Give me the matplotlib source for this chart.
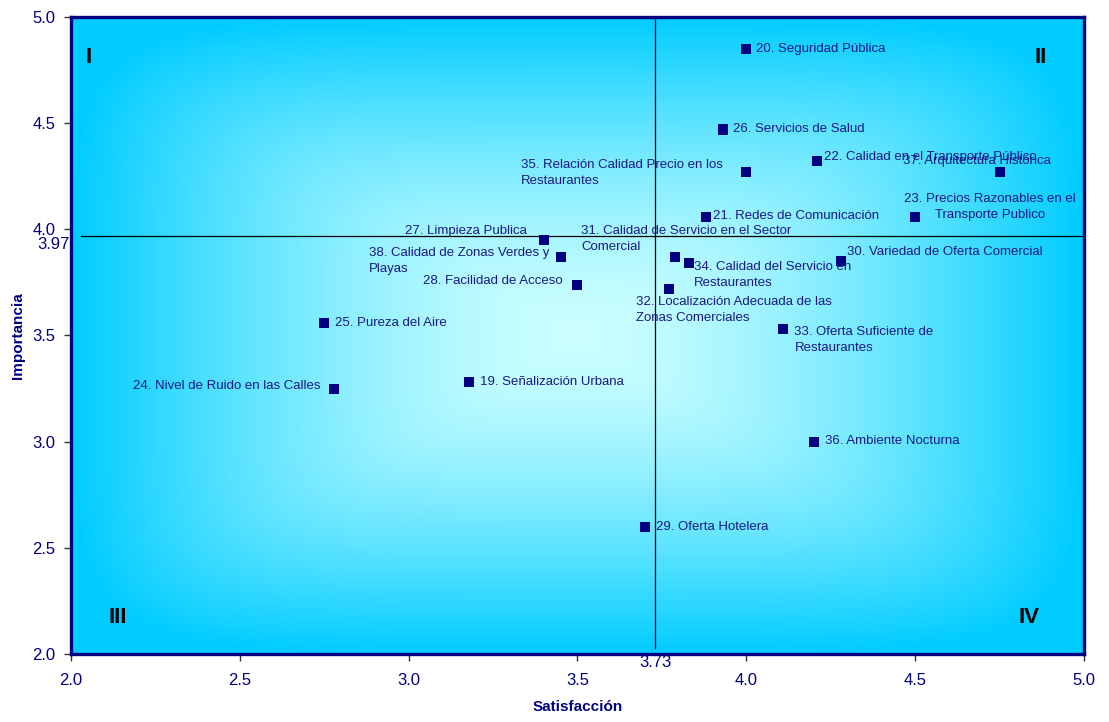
import numpy as np
import matplotlib
matplotlib.use("Agg")
import matplotlib.pyplot as plt
from matplotlib.colors import to_rgb
import matplotlib.transforms as mtransforms

plt.rcParams['font.family'] = ['Liberation Sans', 'DejaVu Sans']

# Attribute codes, names and their mean scores
codes = [19, 20, 21, 22, 23, 24, 25, 26, 27, 28,
         29, 30, 31, 32, 33, 34, 35, 36, 37, 38]
names = [
    "Señalización Urbana",
    "Seguridad Pública",
    "Redes de Comunicación",
    "Calidad en el Transporte Público",
    "Precios Razonables en el\nTransporte Publico",
    "Nivel de Ruido en las Calles",
    "Pureza del Aire",
    "Servicios de Salud",
    "Limpieza Publica",
    "Facilidad de Acceso",
    "Oferta Hotelera",
    "Variedad de Oferta Comercial",
    "Calidad de Servicio en el Sector\nComercial",
    "Localización Adecuada de las\nZonas Comerciales",
    "Oferta Suficiente de\nRestaurantes",
    "Calidad del Servicio en\nRestaurantes",
    "Relación Calidad Precio en los\nRestaurantes",
    "Ambiente Nocturna",
    "Arquitectura Histórica",
    "Calidad de Zonas Verdes y\nPlayas",
]
satisfaccion = [3.18, 4.00, 3.88, 4.21, 4.50, 2.78, 2.75, 3.93, 3.40, 3.50,
                3.70, 4.28, 3.79, 3.77, 4.11, 3.83, 4.00, 4.20, 4.75, 3.45]
importancia = [3.28, 4.85, 4.06, 4.32, 4.06, 3.25, 3.56, 4.47, 3.95, 3.74,
               2.60, 3.85, 3.87, 3.72, 3.53, 3.84, 4.27, 3.00, 4.27, 3.87]

media_satisfaccion = 3.73
media_importancia = 3.97

x_ticks = [2.0, 2.5, 3.0, 3.5, 4.0, 4.5, 5.0]
y_ticks = [2.0, 2.5, 3.0, 3.5, 4.0, 4.5, 5.0]
quadrants = ["I", "II", "III", "IV"]

# Label placement (pixel offsets from each marker, horizontal alignment)
label_layout = {
    19: (11, 0, 'left'), 20: (10, 0, 'left'), 21: (7, 1, 'left'),
    22: (7, 4, 'left'), 23: (75, 10, 'center'), 24: (-14, 3, 'right'),
    25: (11, 0, 'left'), 26: (10, 1, 'left'), 27: (-17, 9, 'right'),
    28: (-15, 4, 'right'), 29: (11, 0, 'left'), 30: (6, 9, 'left'),
    31: (-94, 18, 'left'), 32: (-33, -21, 'left'), 33: (11, -11, 'left'),
    34: (5, -12, 'left'), 35: (-225, -1, 'left'), 36: (11, 1, 'left'),
    37: (-97, 11, 'left'), 38: (-192, -4, 'left'),
}

NAVY = '#000080'
TEXT = '#1a1a82'

fig = plt.figure(figsize=(11.09, 7.22), dpi=100)
ax = fig.add_axes([0.064, 0.0942, 0.9134, 0.8823])

# Rectangular "from centre" gradient background
n = 400
u = np.linspace(-1, 1, n)
U, V = np.meshgrid(u, u)
t = (np.abs(U) ** 6 + np.abs(V) ** 6) ** (1 / 6)
t = np.clip(t, 0, 1) ** 1.5
c_center = np.array(to_rgb('#CCFFFF'))
c_edge = np.array(to_rgb('#00CCFF'))
grad = c_center[None, None, :] * (1 - t[..., None]) + c_edge[None, None, :] * t[..., None]
ax.imshow(grad, extent=[0, 1, 0, 1], transform=ax.transAxes,
          aspect='auto', zorder=0, interpolation='bilinear')

ax.set_xlim(2.0, 5.0)
ax.set_ylim(2.0, 5.0)

# Mean reference lines
ax.axvline(media_satisfaccion, ymin=0.01, ymax=1.0, color='black', lw=0.9, zorder=2)
ax.axhline(media_importancia, xmin=0.01, xmax=1.0, color='black', lw=0.9, zorder=2)

# Points
ax.scatter(satisfaccion, importancia, marker='s', s=52, color=NAVY,
           edgecolors='none', zorder=3)

for c, nm, x, y in zip(codes, names, satisfaccion, importancia):
    dx, dy, ha = label_layout[c]
    ax.annotate(f"{c}. {nm}", (x, y), xytext=(dx, dy), textcoords='offset pixels',
                ha=ha, va='center', multialignment=ha, fontsize=9.5,
                color=TEXT, linespacing=1.45, zorder=4)

# Quadrant labels
quad_pos = [(0.017, 0.937), (0.957, 0.937), (0.046, 0.058), (0.946, 0.058)]
for q, (qx, qy) in zip(quadrants, quad_pos):
    ax.text(qx, qy, q, transform=ax.transAxes, ha='center', va='center',
            fontsize=16, fontweight='bold', color='black', zorder=4)

# Axes styling
for s in ax.spines.values():
    s.set_color(NAVY)
    s.set_linewidth(2.4)
    s.set_zorder(5)

ax.set_xticks(x_ticks, labels=[f"{v:.1f}" for v in x_ticks])
ax.set_yticks(y_ticks, labels=[f"{v:.1f}" for v in y_ticks])
ax.tick_params(axis='x', which='major', length=5, width=1, color='#333333',
               labelsize=12, labelcolor=NAVY, pad=9)
ax.tick_params(axis='y', which='major', length=5, width=1, color='#333333',
               labelsize=12, labelcolor=NAVY, pad=6)

ax.set_xticks([media_satisfaccion], labels=[f"{media_satisfaccion:.2f}"], minor=True)
ax.set_yticks([media_importancia], labels=[f"{media_importancia:.2f}"], minor=True)
ax.tick_params(axis='x', which='minor', length=0, labelsize=12,
               labelcolor=NAVY, pad=1)
ax.tick_params(axis='y', which='minor', length=0, labelsize=12,
               labelcolor=NAVY, pad=1)
for lbl in ax.yaxis.get_minorticklabels():
    lbl.set_transform(lbl.get_transform() +
                      mtransforms.ScaledTranslation(0, -7 / 100, fig.dpi_scale_trans))

ax.set_xlabel("Satisfacción", fontsize=11, fontweight='bold', color=NAVY, labelpad=8)
ax.set_ylabel("Importancia", fontsize=11, fontweight='bold', color=NAVY)
ax.yaxis.set_label_coords(-0.045, 0.5)

fig.savefig("out.png", dpi=100)
